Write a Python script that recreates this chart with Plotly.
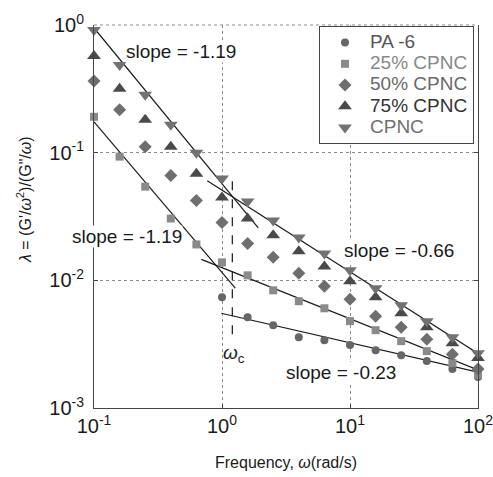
import numpy as np
import plotly.graph_objects as go

freq = [0.1, 0.1585, 0.2512, 0.3981, 0.631, 1.0, 1.585, 2.512, 3.981, 6.31,
        10.0, 15.85, 25.12, 39.81, 63.1, 100.0]

lam_cpnc = [0.914, 0.487, 0.284, 0.1656, 0.100, 0.0627, 0.0414, 0.0294, 0.0217,
            0.01625, 0.01197, 0.00866, 0.00638, 0.00479, 0.00359, 0.00269]
lam_75 = [0.573, 0.316, 0.181, 0.1114, 0.0685, 0.0445, 0.0305, 0.0225, 0.01686,
          0.01286, 0.00982, 0.00737, 0.00552, 0.00429, 0.00322, 0.00246]
lam_50 = [0.365, 0.217, 0.1114, 0.0661, 0.0422, 0.0284, 0.01945, 0.01513, 0.01135,
          0.00898, 0.00711, 0.00523, 0.00429, 0.00346, 0.00264, 0.00202]
lam_25 = [0.191, 0.0931, 0.0542, 0.0305, 0.0191, 0.01383, 0.01094, 0.00835, 0.00686,
          0.00604, 0.00479, 0.00407, 0.00334, 0.00279, 0.00225, 0.00181]
freq_pa6 = freq[5:]
lam_pa6 = [0.00737, 0.00514, 0.00445, 0.00359, 0.00340, 0.00311, 0.00284,
           0.00259, 0.00233, 0.00202, 0.00175]

series_names = ["PA -6", "25% CPNC", "50% CPNC", "75% CPNC", "CPNC"]

# power-law fit lines: lambda = A * omega^s over [w0, w1]
fit_A = [0.0571, 0.0509, 0.01153, 0.01256, 0.00551]
fit_s = [-1.22, -0.64, -1.18, -0.40, -0.23]
fit_w0 = [0.1, 0.767, 0.1, 0.689, 0.987]
fit_w1 = [1.92, 100.0, 1.27, 100.0, 100.0]

omega_c = 1.204
omega_c_span = [0.00379, 0.0673]

slope_labels = ["slope = -1.19", "slope = -1.19", "slope = -0.66", "slope = -0.23"]

fig = go.Figure()

for A, s, w0, w1 in zip(fit_A, fit_s, fit_w0, fit_w1):
    w = np.array([w0, w1])
    fig.add_trace(go.Scatter(x=w, y=A * w ** s, mode="lines",
                             line=dict(color="#1a1a1a", width=1.2),
                             showlegend=False, hoverinfo="skip"))

fig.add_trace(go.Scatter(x=[omega_c, omega_c], y=omega_c_span, mode="lines",
                         line=dict(color="#1a1a1a", width=1.2, dash="dash"),
                         showlegend=False, hoverinfo="skip"))

styles = [
    (freq_pa6, lam_pa6, "circle", 8, "#666666", "#555555"),
    (freq, lam_25, "square", 8, "#8a8a8a", "#888888"),
    (freq, lam_50, "diamond", 10, "#6e6e6e", "#6a6a6a"),
    (freq, lam_75, "triangle-up", 12, "#4a4a4a", "#333333"),
    (freq, lam_cpnc, "triangle-down", 12, "#727272", "#707070"),
]
for name, (xs, ys, sym, sz, col, tcol) in zip(series_names, styles):
    fig.add_trace(go.Scatter(
        x=xs, y=ys, mode="markers",
        name=f'<span style="font-size:19px;color:{tcol}">{name}</span>',
        marker=dict(symbol=sym, size=sz, color=col, line=dict(width=0)),
        cliponaxis=False))

font = "Liberation Sans, Arial, sans-serif"

ann = [
    dict(x=-0.319, y=-0.211, text=slope_labels[0]),
    dict(x=-0.742, y=-1.656, text=slope_labels[1]),
    dict(x=1.381, y=-1.766, text=slope_labels[2]),
    dict(x=0.926, y=-2.719, text=slope_labels[3]),
]
annotations = []
for a in ann:
    annotations.append(dict(x=a["x"], y=a["y"], xref="x", yref="y", text=a["text"],
                            showarrow=False, bgcolor="white", borderpad=0,
                            xanchor="center", yanchor="middle",
                            font=dict(size=19, color="#1a1a1a", family=font)))
annotations.append(dict(x=0.096, y=-2.578, xref="x", yref="y",
                        text="<i>ω</i><sub>c</sub>", showarrow=False,
                        xanchor="center", yanchor="middle",
                        font=dict(size=19, color="#1a1a1a", family=font)))
annotations.append(dict(x=(24 - 94) / 384, y=(408 - 200) / 383,
                        xref="paper", yref="paper",
                        xanchor="center", yanchor="middle",
                        text="<i>λ</i> = (G'/<i>ω</i><sup>2</sup>)/(G\"/<i>ω</i>)",
                        textangle=-90, showarrow=False,
                        font=dict(size=16, color="#1a1a1a", family=font)))
annotations.append(dict(x=0.5, y=(408 - 462) / 383, xref="paper", yref="paper",
                        xanchor="center", yanchor="middle",
                        text="Frequency, <i>ω</i>(rad/s)", showarrow=False,
                        font=dict(size=16, color="#1a1a1a", family=font)))

fig.update_layout(
    width=493, height=477,
    margin=dict(l=94, r=15, t=25, b=69, autoexpand=False),
    paper_bgcolor="white", plot_bgcolor="white",
    font=dict(family=font, size=15, color="#1a1a1a"),
    showlegend=True,
    legend=dict(x=(319 - 94) / 384, y=(408 - 26) / 383, xanchor="left", yanchor="top",
                bgcolor="white", bordercolor="#444444", borderwidth=1,
                font=dict(size=14, family=font), tracegroupgap=0,
                itemwidth=40),
    annotations=annotations,
)

fig.update_xaxes(type="log", range=[-1, 2], automargin=False,
                 tickvals=[0.1, 1, 10, 100],
                 ticktext=["10<sup>-1</sup>", "10<sup>0</sup>", "10<sup>1</sup>", "10<sup>2</sup>"],
                 ticklabeloverflow="allow",
                 showgrid=True, gridcolor="#8c8c8c", griddash="dot", gridwidth=1,
                 showline=True, linecolor="#444444", linewidth=1,
                 ticks="inside", ticklen=4, tickcolor="#444444",
                 tickfont=dict(size=20, color="#1a1a1a"), zeroline=False)
fig.update_yaxes(type="log", range=[-3, 0], automargin=False,
                 tickvals=[0.001, 0.01, 0.1, 1],
                 ticktext=["10<sup>-3</sup>", "10<sup>-2</sup>", "10<sup>-1</sup>", "10<sup>0</sup>"],
                 ticklabelstandoff=5, ticklabeloverflow="allow",
                 showgrid=True, gridcolor="#8c8c8c", griddash="dot", gridwidth=1,
                 showline=True, linecolor="#444444", linewidth=1, mirror="ticks",
                 ticks="inside", ticklen=4, tickcolor="#444444",
                 tickfont=dict(size=20, color="#1a1a1a"), zeroline=False)

# dotted top border as in the reference
fig.add_shape(type="line", xref="paper", yref="paper", x0=0, x1=1, y0=1, y1=1,
              line=dict(color="#8c8c8c", width=1, dash="dot"))

fig.write_html("out.html")
